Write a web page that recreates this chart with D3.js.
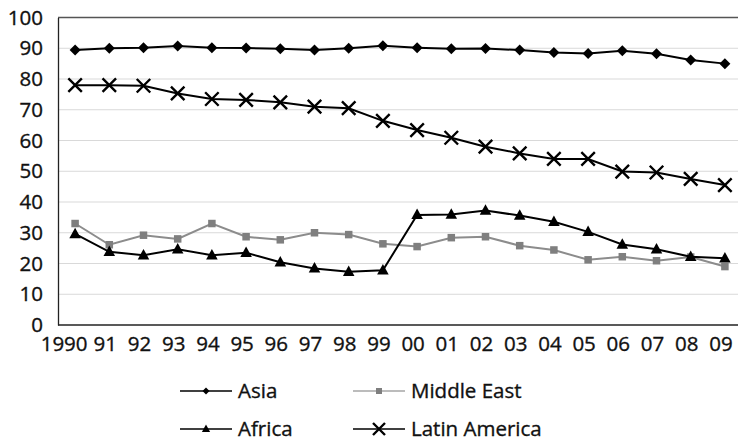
<!DOCTYPE html>
<html>
<head>
<meta charset="utf-8">
<script src="https://cdn.jsdelivr.net/npm/d3@7"></script>
<style>
  body { margin: 0; background: #fff; }
  svg { display: block; font-family: 'Open Sans', sans-serif; }
  text { stroke: #111; stroke-width: 0.35px; }
</style>
</head>
<body>
<svg id="chart" width="738" height="443"></svg>
<script>
const years = ['1990', '91', '92', '93', '94', '95', '96', '97', '98', '99',
  '00', '01', '02', '03', '04', '05', '06', '07', '08', '09'];
const yTicks = [0, 10, 20, 30, 40, 50, 60, 70, 80, 90, 100];

const asia = [89.4, 90.0, 90.2, 90.7, 90.2, 90.1, 89.8, 89.4, 90.0, 90.8,
  90.2, 89.8, 89.9, 89.4, 88.6, 88.3, 89.2, 88.2, 86.2, 85.0];
const middleEast = [33.0, 26.1, 29.2, 28.0, 33.0, 28.7, 27.7, 30.0, 29.4, 26.4,
  25.5, 28.4, 28.7, 25.8, 24.4, 21.2, 22.2, 20.9, 22.1, 19.0];
const africa = [29.6, 23.8, 22.7, 24.6, 22.7, 23.5, 20.4, 18.4, 17.3, 17.8,
  35.8, 35.9, 37.2, 35.6, 33.6, 30.3, 26.2, 24.6, 22.2, 21.7];
const latinAmerica = [78.0, 78.0, 77.8, 75.3, 73.5, 73.2, 72.4, 71.0, 70.5, 66.4,
  63.4, 60.9, 58.0, 55.8, 54.0, 54.0, 49.9, 49.6, 47.5, 45.5];

const series = [
  { name: 'Asia', values: asia, color: '#000', marker: 'diamond' },
  { name: 'Middle East', values: middleEast, color: '#8c8c8c', mcolor: '#7f7f7f', marker: 'square' },
  { name: 'Africa', values: africa, color: '#000', marker: 'triangle' },
  { name: 'Latin America', values: latinAmerica, color: '#000', marker: 'cross' }
];

const svg = d3.select('#chart');
const plotLeft = 58, plotTop = 17.5, plotBottom = 325;
const fontSize = 20.5;

const x = d3.scaleBand().domain(years).range([plotLeft, plotLeft + 20 * 34.2]);
const y = d3.scaleLinear().domain([0, 100]).range([plotBottom, plotTop]);
const cx = (d) => x(d) + x.bandwidth() / 2;

// gridlines
svg.append('g')
  .selectAll('line')
  .data(yTicks.slice(1, -1))
  .join('line')
  .attr('x1', plotLeft).attr('x2', 738)
  .attr('y1', (d) => y(d)).attr('y2', (d) => y(d))
  .attr('stroke', '#d9d9d9').attr('stroke-width', 1.2);

// top border
svg.append('line')
  .attr('x1', plotLeft).attr('x2', 738)
  .attr('y1', y(100)).attr('y2', y(100))
  .attr('stroke', '#555').attr('stroke-width', 1.3);

// y axis
const yAxis = svg.append('g')
  .attr('transform', `translate(${plotLeft},0)`)
  .call(d3.axisLeft(y).tickValues(yTicks).tickSize(0).tickPadding(15));
yAxis.select('.domain').attr('stroke', '#222').attr('stroke-width', 1.3);
yAxis.selectAll('text').attr('font-size', fontSize).attr('fill', '#111')
  .attr('font-family', "'Open Sans', sans-serif");

// x axis
const xAxis = svg.append('g')
  .attr('transform', `translate(0,${plotBottom})`)
  .call(d3.axisBottom(x).tickSize(0).tickPadding(11));
xAxis.select('.domain').attr('d', `M${plotLeft},0H738`).attr('stroke', '#222').attr('stroke-width', 1.3);
xAxis.selectAll('text').attr('font-size', fontSize).attr('fill', '#111')
  .attr('font-family', "'Open Sans', sans-serif")
  .attr('x', (d) => (d === '1990' ? -11 : -4));

const line = (vals) => d3.line()
  .x((d, i) => cx(years[i]))
  .y((d) => y(d))(vals);

function drawMarker(g, type, color, s) {
  if (type === 'diamond') {
    g.append('path').attr('d', `M0,${-s / 2}L${s / 2},0L0,${s / 2}L${-s / 2},0Z`)
      .attr('fill', color);
  } else if (type === 'square') {
    g.append('rect').attr('x', -s / 2).attr('y', -s / 2)
      .attr('width', s).attr('height', s).attr('fill', color);
  } else if (type === 'triangle') {
    g.append('path').attr('d', `M0,${-s * 0.6}L${s * 0.55},${s * 0.4}L${-s * 0.55},${s * 0.4}Z`)
      .attr('fill', color);
  } else if (type === 'cross') {
    g.append('path').attr('d', `M${-s / 2},${-s / 2}L${s / 2},${s / 2}M${s / 2},${-s / 2}L${-s / 2},${s / 2}`)
      .attr('stroke', color).attr('stroke-width', 2.4).attr('fill', 'none');
  }
}

const sizes = { diamond: 11, square: 7.5, triangle: 10.5, cross: 13.5 };
const drawOrder = [series[1], series[2], series[0], series[3]];

drawOrder.forEach((s) => {
  svg.append('path')
    .attr('d', line(s.values))
    .attr('fill', 'none')
    .attr('stroke', s.color)
    .attr('stroke-width', 2);
  svg.append('g')
    .selectAll('g')
    .data(s.values)
    .join('g')
    .attr('transform', (d, i) => `translate(${cx(years[i])},${y(d)})`)
    .each(function () {
      drawMarker(d3.select(this), s.marker, s.mcolor || s.color, sizes[s.marker]);
    });
});

// legend
const legendPos = [
  { x: 180, y: 391 }, { x: 353, y: 391 },
  { x: 180, y: 429 }, { x: 353, y: 429 }
];
const legendSizes = { diamond: 7, square: 6, triangle: 7.5, cross: 12 };
series.forEach((s, i) => {
  const p = legendPos[i];
  const g = svg.append('g').attr('transform', `translate(${p.x},${p.y})`);
  g.append('line').attr('x1', 0).attr('x2', 52).attr('y1', 0).attr('y2', 0)
    .attr('stroke', s.color === '#000' ? '#000' : '#a6a6a6').attr('stroke-width', 1.6);
  const m = g.append('g').attr('transform', 'translate(26,0)');
  drawMarker(m, s.marker, s.mcolor || s.color, legendSizes[s.marker]);
  g.append('text').attr('x', 58).attr('y', 0).attr('dy', '0.35em')
    .attr('font-size', fontSize).attr('fill', '#111').text(s.name);
});
</script>
</body>
</html>
